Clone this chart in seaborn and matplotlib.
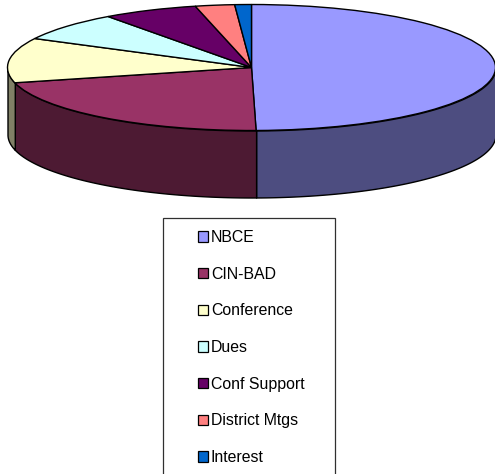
import numpy as np
import matplotlib
matplotlib.use("Agg")
import matplotlib.pyplot as plt
from matplotlib.colors import to_rgb
from matplotlib.patches import Rectangle
import seaborn as sns

# Values (share of the pie, percent)
categories = ["NBCE", "CIN-BAD", "Conference", "Dues", "Conf Support", "District Mtgs", "Interest"]
shares = [49.7, 21.4, 11.5, 7.4, 6.3, 2.6, 1.1]
slice_colors = ["#9999ff", "#993366", "#ffffcc", "#ccffff", "#660066", "#ff8080", "#0066cc"]

sns.set_theme(style="white")
plt.rcParams['font.family'] = ['Liberation Sans', 'DejaVu Sans']

W, H = 495, 474
CX, CY, RX, RY = 251.5, 67.5, 244, 63
DEPTH = 67 / RY


def main():
    palette = sns.color_palette(slice_colors)
    fig = plt.figure(figsize=(W / 100, H / 100), dpi=100)
    ax = fig.add_axes([0, 0, 1, 1])

    # top of the disc
    wedges, _ = ax.pie(
        shares,
        colors=palette,
        startangle=90,
        counterclock=False,
        wedgeprops={'edgecolor': 'black', 'linewidth': 1.0},
    )
    for w in wedges:
        w.set_zorder(3)

    # squash the disc: one data unit is RX across and RY down
    ax.set_aspect('auto')
    ax.set_xlim(-CX / RX, (W - CX) / RX)
    ax.set_ylim((CY - H) / RY, CY / RY)

    # front wall of the disc, darker shade of each slice
    edges = np.cumsum([0] + shares) / np.sum(shares) * 360
    for i, color in enumerate(palette):
        a0 = max(edges[i], 90)
        a1 = min(edges[i + 1], 270)
        if a1 <= a0:
            continue
        theta = np.radians(np.linspace(a0, a1, 80))
        x = np.sin(theta)
        y = np.cos(theta)
        dark = tuple(c * 0.5 for c in to_rgb(color))
        ax.fill_between(x, y, y - DEPTH, facecolor=dark, edgecolor='black',
                        linewidth=1.0, zorder=2)

    # legend frame runs off the bottom of the picture
    frame = Rectangle((163 / W, -0.05), 172 / W, 1.05 - 218.5 / H,
                      transform=fig.transFigure, facecolor='white',
                      edgecolor='#303030', linewidth=0.9, zorder=1)
    fig.add_artist(frame)
    ax.set_zorder(2)
    ax.patch.set_alpha(0)

    leg = ax.legend(
        wedges, categories,
        loc='upper left',
        bbox_to_anchor=(197.5 / W, 1 - 230 / H),
        bbox_transform=fig.transFigure,
        frameon=False,
        fontsize=11.4,
        borderpad=0,
        borderaxespad=0,
        handlelength=0.64,
        handleheight=0.64,
        handletextpad=0.2,
        labelspacing=1.37,
        labelcolor='black',
    )
    for h in leg.get_patches():
        h.set_linewidth(0.9)

    fig.savefig("out.png", dpi=100)
    plt.close(fig)


if __name__ == '__main__':
    main()
